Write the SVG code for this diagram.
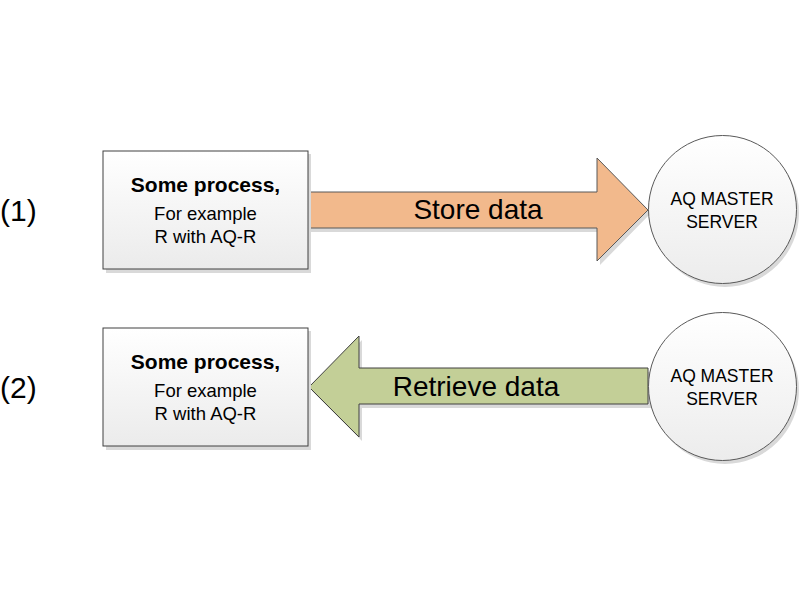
<svg xmlns="http://www.w3.org/2000/svg" width="800" height="600" viewBox="0 0 800 600">
  <defs>
    <linearGradient id="gBox" x1="0" y1="0" x2="0" y2="1">
      <stop offset="0" stop-color="#ffffff"/>
      <stop offset="1" stop-color="#ebebeb"/>
    </linearGradient>
    <linearGradient id="gCircle" x1="0" y1="0" x2="0" y2="1">
      <stop offset="0" stop-color="#ffffff"/>
      <stop offset="1" stop-color="#ececec"/>
    </linearGradient>
  </defs>
  <style>
    .shadow { fill: #d9d9d9; stroke: none; }
    .box { fill: url(#gBox); stroke: #404040; stroke-width: 1; }
    .server { fill: url(#gCircle); stroke: #595959; stroke-width: 1; }
    .t { font-family: "Liberation Sans", Arial, sans-serif; fill: #000000; text-anchor: middle; }
    .title { font-size: 21px; font-weight: bold; }
    .sub { font-size: 18.5px; }
    .srv { font-size: 17.5px; }
    .arrowlbl { font-size: 28px; }
    .num { font-family: "Liberation Sans", Arial, sans-serif; font-size: 30px; fill: #000000; }
    .store { fill: #f2b98c; stroke: #595959; stroke-width: 1; }
    .retrieve { fill: #c3cf97; stroke: #404040; stroke-width: 1; }
  </style>
  <rect width="800" height="600" fill="#ffffff"/>

  <text class="num" x="0" y="221">(1)</text>
  <text class="num" x="0" y="398">(2)</text>

  <g id="connectors">
    <g id="store-data">
      <polygon class="shadow" points="311,196 600,196 600,162 651,213 600,265 600,232 311,232"/>
      <polygon class="store" points="308,192 597,192 597,158 648,210 597,261 597,228 308,228"/>
      <text class="t arrowlbl" x="478" y="219">Store data</text>
    </g>
    <g id="retrieve-data">
      <polygon class="shadow" points="651,372 362,372 362,340 312,391 362,441 362,408 651,408"/>
      <polygon class="retrieve" points="648,368 359,368 359,336 309,387 359,437 359,404 648,404"/>
      <text class="t arrowlbl" x="476" y="396">Retrieve data</text>
    </g>
  </g>

  <g id="process1">
    <rect class="shadow" x="106" y="154" width="205" height="119"/>
    <rect class="box" x="103" y="151" width="205" height="118"/>
    <text class="t title" x="205.5" y="192">Some process,</text>
    <text class="t sub" x="205.5" y="220">For example</text>
    <text class="t sub" x="205.5" y="243">R with AQ-R</text>
  </g>

  <g id="server1">
    <circle class="shadow" cx="725" cy="213" r="74"/>
    <circle class="server" cx="722.5" cy="209.5" r="74"/>
    <text class="t srv" x="722" y="205">AQ MASTER</text>
    <text class="t srv" x="722" y="228">SERVER</text>
  </g>

  <g id="process2">
    <rect class="shadow" x="106" y="331" width="205" height="119"/>
    <rect class="box" x="103" y="328" width="205" height="118"/>
    <text class="t title" x="205.5" y="369">Some process,</text>
    <text class="t sub" x="205.5" y="397">For example</text>
    <text class="t sub" x="205.5" y="420">R with AQ-R</text>
  </g>

  <g id="server2">
    <circle class="shadow" cx="725" cy="390" r="74"/>
    <circle class="server" cx="722.5" cy="386.5" r="74"/>
    <text class="t srv" x="722" y="382">AQ MASTER</text>
    <text class="t srv" x="722" y="405">SERVER</text>
  </g>
</svg>
